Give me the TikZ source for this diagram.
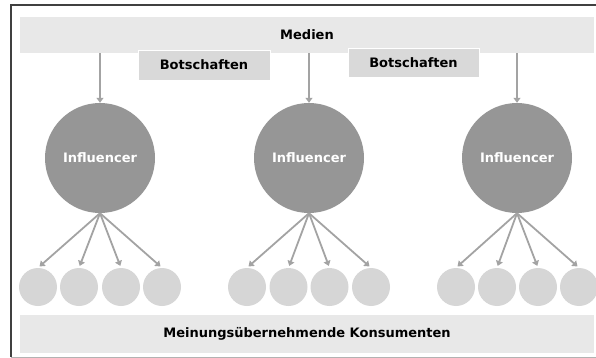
\documentclass[tikz,border=0pt]{standalone}
\usepackage{fontspec}
\setmainfont{DejaVu Sans}
\usepackage{tikz}
\usetikzlibrary{arrows.meta, positioning, calc}

\definecolor{barfill}{gray}{0.91}
\definecolor{boxfill}{gray}{0.85}
\definecolor{inflfill}{gray}{0.59}
\definecolor{consfill}{gray}{0.84}
\definecolor{arrowgray}{gray}{0.64}

\begin{document}
\begin{tikzpicture}[
	x=1pt, y=-1pt,
	every node/.style={font=\fontsize{13}{15}\selectfont\bfseries},
	bar/.style={rectangle,fill=barfill,inner sep=0pt,minimum width=574pt},
	msgbox/.style={rectangle,fill=boxfill,draw=white,line width=0.8pt,inner sep=0pt,minimum height=30pt},
	influencer/.style={circle,fill=inflfill,text=white,minimum size=110pt,inner sep=0pt},
	consumer/.style={circle,fill=consfill,minimum size=38pt,inner sep=0pt},
	arrow/.style={-{Triangle[width=7pt,length=5pt]},arrowgray,line width=1.8pt}
]
\useasboundingbox (0,0) rectangle (596,358);

% Frame
\draw[black!75,line width=1.2pt] (598,5) -- (11,5) -- (11,357);
\draw[black!30,line width=0.8pt] (11,357) -- (598,357);

% Media bar and messages
\node[bar, minimum height=36pt] (medien) at (307,35) {Medien};
\node[msgbox, minimum width=132pt] (msg1) at (204,65) {Botschaften};
\node[msgbox, minimum width=131pt, minimum height=29pt] (msg2) at (413.5,62.5) {Botschaften};

% Influencers
\node[influencer] (infl1) at (100,158) {Influencer};
\node[influencer] (infl2) at (309,158) {Influencer};
\node[influencer] (infl3) at (517,158) {Influencer};

\draw[arrow] (infl1 |- medien.south) -- (infl1);
\draw[arrow] (infl2 |- medien.south) -- (infl2);
\draw[arrow] (infl3 |- medien.south) -- (infl3);

% Consumers
\node[consumer] (c11) at (38,287) {};
\node[consumer] (c12) at (79,287) {};
\node[consumer] (c13) at (121,287) {};
\node[consumer] (c14) at (162,287) {};

\node[consumer] (c21) at (247,287) {};
\node[consumer] (c22) at (288.5,287) {};
\node[consumer] (c23) at (329.5,287) {};
\node[consumer] (c24) at (371,287) {};

\node[consumer] (c31) at (456,287) {};
\node[consumer] (c32) at (497,287) {};
\node[consumer] (c33) at (538,287) {};
\node[consumer] (c34) at (579,287) {};

\draw[arrow, shorten >=2pt] (infl1.south) -- (c11.north);
\draw[arrow, shorten >=2pt] (infl1.south) -- (c12.north);
\draw[arrow, shorten >=2pt] (infl1.south) -- (c13.north);
\draw[arrow, shorten >=2pt] (infl1.south) -- (c14.north);

\draw[arrow, shorten >=2pt] (infl2.south) -- (c21.north);
\draw[arrow, shorten >=2pt] (infl2.south) -- (c22.north);
\draw[arrow, shorten >=2pt] (infl2.south) -- (c23.north);
\draw[arrow, shorten >=2pt] (infl2.south) -- (c24.north);

\draw[arrow, shorten >=2pt] (infl3.south) -- (c31.north);
\draw[arrow, shorten >=2pt] (infl3.south) -- (c32.north);
\draw[arrow, shorten >=2pt] (infl3.south) -- (c33.north);
\draw[arrow, shorten >=2pt] (infl3.south) -- (c34.north);

% Consumer bar
\node[bar, minimum height=38pt] (konsumenten) at (307,334) {Meinungsübernehmende Konsumenten};

\end{tikzpicture}
\end{document}
